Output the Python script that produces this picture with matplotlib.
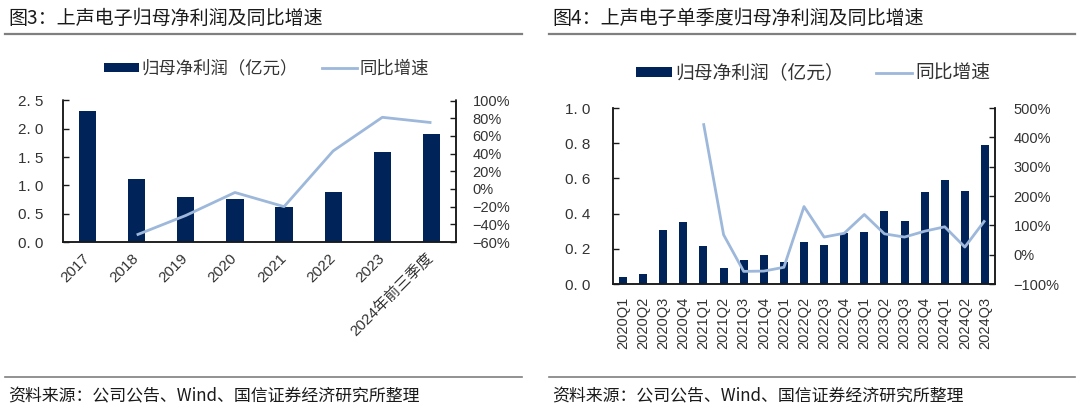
import matplotlib
matplotlib.use("Agg")
import matplotlib.pyplot as plt
from matplotlib.lines import Line2D
from matplotlib.patches import Patch
from matplotlib.ticker import FuncFormatter

plt.rcParams['font.family'] = ['Liberation Sans', 'Noto Sans CJK SC', 'DejaVu Sans']

# ---------------- data ----------------
years = ["2017", "2018", "2019", "2020", "2021", "2022", "2023", "2024年前三季度"]
annual_profit = [2.32, 1.12, 0.79, 0.76, 0.61, 0.875, 1.59, 1.90]
annual_yoy = [None, -52, -30, -4, -20, 43, 81, 75]

quarters = ["2020Q1", "2020Q2", "2020Q3", "2020Q4",
            "2021Q1", "2021Q2", "2021Q3", "2021Q4",
            "2022Q1", "2022Q2", "2022Q3", "2022Q4",
            "2023Q1", "2023Q2", "2023Q3", "2023Q4",
            "2024Q1", "2024Q2", "2024Q3"]
quarter_profit = [0.04, 0.055, 0.307, 0.355,
                  0.216, 0.091, 0.137, 0.165,
                  0.127, 0.241, 0.222, 0.288,
                  0.298, 0.412, 0.360, 0.522,
                  0.592, 0.526, 0.788]
quarter_yoy = [None, None, None, None,
               448, 68, -57, -56,
               -43, 164, 60, 73,
               137, 71, 60, 80,
               95, 26, 117]

left_yticks = [0, 0.5, 1.0, 1.5, 2.0, 2.5]
left_pct_ticks = [-60, -40, -20, 0, 20, 40, 60, 80, 100]
right_yticks = [0, 0.2, 0.4, 0.6, 0.8, 1.0]
right_pct_ticks = [-100, 0, 100, 200, 300, 400, 500]

bar_label = "归母净利润（亿元）"
line_label = "同比增速"
title_left = "图3：上声电子归母净利润及同比增速"
title_right = "图4：上声电子单季度归母净利润及同比增速"
source = "资料来源：公司公告、Wind、国信证券经济研究所整理"

# ---------------- style ----------------
BAR = '#002459'
LINE = '#9DB8DA'
TXT = '#333333'
W, H = 1080, 415
cjk = ['Noto Sans CJK SC', 'DejaVu Sans']

fig = plt.figure(figsize=(W / 100, H / 100), dpi=100)


def fx(px):
    return px / W


def fy(py):
    return 1 - py / H


def style_axes(ax, ax2, lpad, rpad):
    for s in ['top']:
        ax.spines[s].set_visible(False)
        ax2.spines[s].set_visible(False)
    for s in ['left', 'right', 'bottom']:
        ax.spines[s].set_linewidth(1.1)
        ax.spines[s].set_color('#1a1a1a')
        ax2.spines[s].set_linewidth(1.1)
        ax2.spines[s].set_color('#1a1a1a')
    ax.tick_params(axis='y', direction='in', length=4, width=1.0, pad=lpad,
                   labelsize=11, labelcolor=TXT, color='#1a1a1a')
    ax2.tick_params(axis='y', direction='in', length=4, width=1.0, pad=rpad,
                    labelsize=10.5, labelcolor=TXT, color='#1a1a1a')
    ax.set_zorder(1)
    ax2.set_zorder(2)
    ax.patch.set_visible(False)


def num_fmt(v, pos):
    return f"{v:.1f}".replace('.', '. ')


def pct_fmt(v, pos):
    return f"{v:.0f}%".replace('-', '\u2212')


# ---------------- left chart ----------------
axL = fig.add_axes([fx(63), fy(242), fx(456) - fx(63), fy(100.5) - fy(242)])
axL2 = axL.twinx()
xL = list(range(len(years)))
axL.bar(xL, annual_profit, width=0.35, color=BAR, zorder=2)
lx = [i for i, v in zip(xL, annual_yoy) if v is not None]
ly = [v for v in annual_yoy if v is not None]
axL2.plot(lx, ly, color=LINE, lw=2.0, solid_capstyle='butt')
axL.set_xlim(-0.5, len(years) - 0.5)
axL.set_ylim(0, 2.5)
axL2.set_ylim(-60, 100)
axL.set_yticks(left_yticks)
axL.yaxis.set_major_formatter(FuncFormatter(num_fmt))
axL2.set_yticks(left_pct_ticks)
axL2.yaxis.set_major_formatter(FuncFormatter(pct_fmt))
axL.set_xticks(xL)
axL.set_xticklabels(years, rotation=45, ha='right', va='center',
                    rotation_mode='anchor', fontsize=11, color=TXT)
axL.tick_params(axis='x', length=0, pad=10)
style_axes(axL, axL2, 14, 12)

handles = [Patch(facecolor=BAR, edgecolor='none'), Line2D([], [], color=LINE, lw=2.0)]
fig.legend(handles, [bar_label, line_label], loc='center',
           bbox_to_anchor=(fx(266.5), fy(68.5)), ncol=2, frameon=False,
           prop={'family': cjk, 'size': 12.5}, handlelength=2.0,
           handleheight=0.4, handletextpad=0.15, columnspacing=1.4,
           labelcolor=TXT)

# ---------------- right chart ----------------
axR = fig.add_axes([fx(613), fy(284), fx(995) - fx(613), fy(108) - fy(284)])
axR2 = axR.twinx()
xR = list(range(len(quarters)))
axR.bar(xR, quarter_profit, width=0.4, color=BAR, zorder=2)
rx = [i for i, v in zip(xR, quarter_yoy) if v is not None]
ry = [v for v in quarter_yoy if v is not None]
axR2.plot(rx, ry, color=LINE, lw=2.0, solid_capstyle='butt')
axR.set_xlim(-0.5, len(quarters) - 0.5)
axR.set_ylim(0, 1.0)
axR2.set_ylim(-100, 500)
axR.set_yticks(right_yticks)
axR.yaxis.set_major_formatter(FuncFormatter(num_fmt))
axR2.set_yticks(right_pct_ticks)
axR2.yaxis.set_major_formatter(FuncFormatter(pct_fmt))
axR.set_xticks(xR)
axR.set_xticklabels(quarters, rotation=90, ha='center', va='top',
                    fontsize=10.5, color=TXT)
axR.tick_params(axis='x', length=0, pad=9)
style_axes(axR, axR2, 16, 13.5)

fig.legend(handles, [bar_label, line_label], loc='center',
           bbox_to_anchor=(fx(813), fy(73)), ncol=2, frameon=False,
           prop={'family': cjk, 'size': 13.5}, handlelength=1.95,
           handleheight=0.4, handletextpad=0.15, columnspacing=1.7,
           labelcolor=TXT)

# ---------------- titles, rules, sources ----------------
for x0, x1, t in [(5, 522, title_left), (549, 1075, title_right)]:
    fig.text(fx(x0 + 3), fy(18), t, fontsize=13.7, family=cjk, weight='medium',
             va='center', ha='left', color='#1a1a1a')
    fig.add_artist(Line2D([fx(x0), fx(x1)], [fy(34), fy(34)],
                          color='#7f7f7f', lw=1.6, transform=fig.transFigure))
    fig.add_artist(Line2D([fx(x0), fx(x1)], [fy(377), fy(377)],
                          color='#7f7f7f', lw=1.2, transform=fig.transFigure))
    fig.text(fx(x0 + 3), fy(396.5), source, fontsize=12.2, family=cjk,
             va='center', ha='left', color='#1a1a1a')

fig.savefig("out.png", dpi=100)
